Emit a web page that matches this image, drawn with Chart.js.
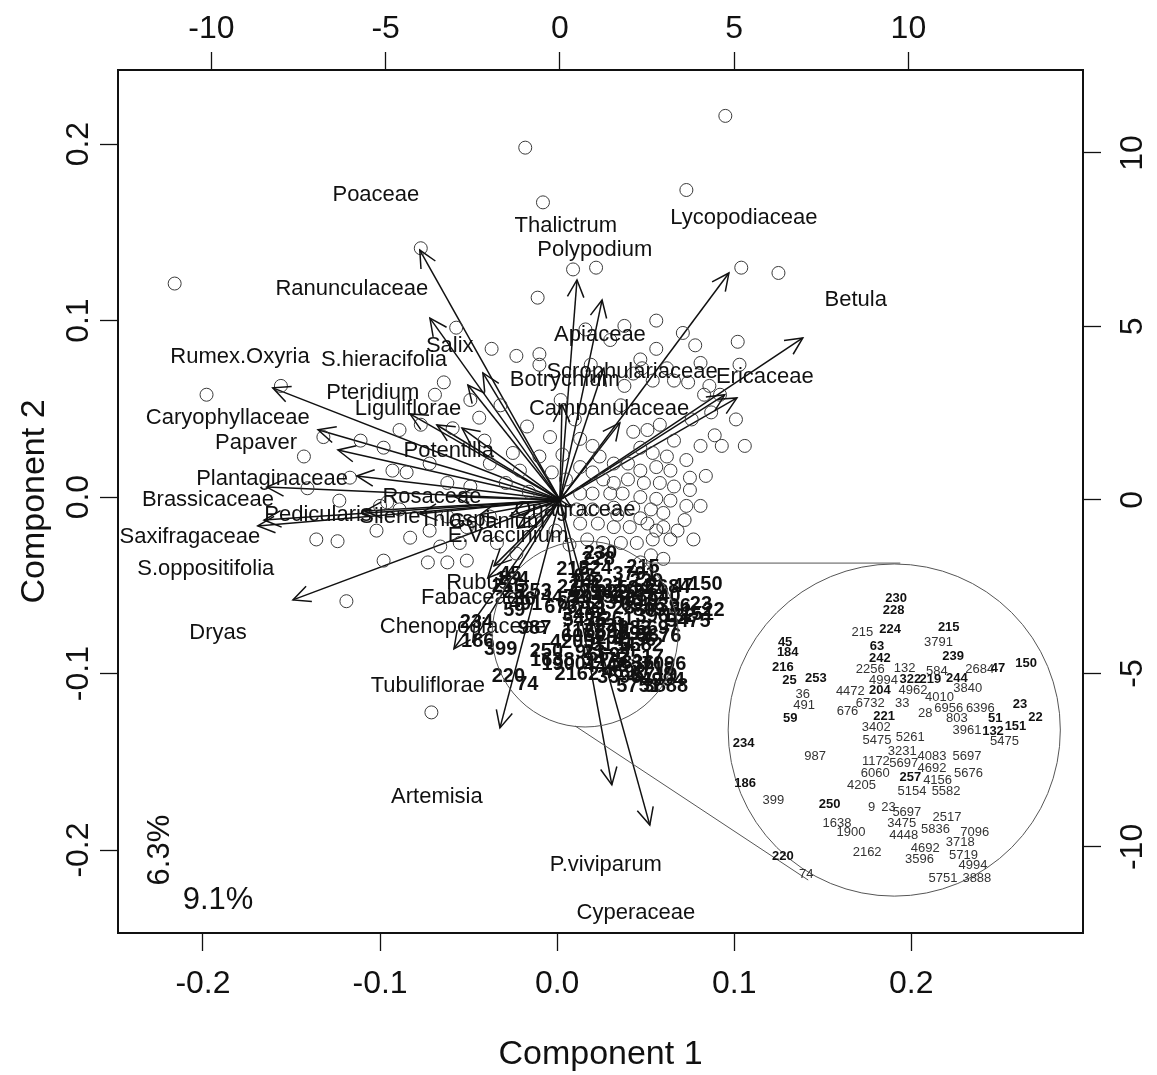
<!DOCTYPE html>
<html>
<head>
<meta charset="utf-8">
<script src="https://cdn.jsdelivr.net/npm/chart.js@4.4.1/dist/chart.umd.min.js"></script>
<style>
  html, body { margin: 0; background: #fff; }
  canvas { display: block; }
</style>
</head>
<body>
<canvas id="biplot" width="1157" height="1075"></canvas>
<script>
// sample scores on Component 1 / Component 2
const sampleX = [0.095,-0.018,-0.008,0.073,-0.216,-0.077,0.009,0.022,0.104,0.125,-0.011,0.056,0.056,0.048,0.062,0.071,0.078,0.102,0.103,-0.010,
  0.066,0.074,0.086,-0.057,-0.037,-0.023,-0.010,-0.198,-0.156,-0.064,-0.132,-0.143,-0.098,-0.093,-0.085,-0.117,-0.141,-0.100,-0.102,-0.136,
  -0.124,-0.083,-0.098,-0.119,-0.071,-0.044,-0.077,-0.059,-0.017,-0.004,-0.025,-0.010,0.003,-0.072,-0.062,-0.049,-0.038,-0.029,-0.003,0.013,
  0.020,0.024,0.032,0.047,0.054,0.043,0.051,0.058,0.047,0.054,0.062,0.066,0.040,0.047,0.056,0.064,0.032,0.040,0.049,0.058,
  0.066,0.013,0.020,0.013,0.020,0.030,0.037,0.047,0.056,0.064,0.011,0.020,0.032,0.043,0.053,0.060,0.013,0.023,0.032,0.041,
  0.051,0.060,0.068,0.017,0.026,0.036,0.045,0.054,0.064,-0.096,-0.089,-0.072,-0.062,-0.051,-0.038,-0.066,-0.055,-0.034,-0.023,-0.073,
  -0.062,-0.051,0.053,0.060,0.081,0.083,0.092,0.101,0.087,0.076,0.089,0.081,0.093,0.106,0.073,0.084,0.075,0.073,0.081,0.072,
  0.077,0.047,-0.021,-0.016,0.005,-0.012,-0.001,0.007,-0.041,-0.032,-0.049,-0.069,-0.089,-0.111,-0.123,0.010,0.002,0.036,0.038,0.030,
  0.016,0.038,0.019,0.043,0.026,0.034,0.047,0.056,0.075];
const sampleY = [0.216,0.198,0.167,0.174,0.121,0.141,0.129,0.130,0.130,0.127,0.113,0.100,0.084,0.073,0.073,0.093,0.086,0.088,0.075,0.075,
  0.066,0.065,0.063,0.096,0.084,0.080,0.081,0.058,0.063,0.065,0.034,0.023,0.028,0.015,0.014,0.011,0.005,-0.005,-0.019,-0.024,
  -0.025,-0.023,-0.036,-0.059,-0.122,0.045,0.041,0.039,0.040,0.034,0.025,0.023,0.024,0.019,0.008,0.006,0.019,0.008,0.014,0.033,
  0.029,0.023,0.019,0.078,0.066,0.037,0.038,0.041,0.028,0.025,0.023,0.032,0.019,0.015,0.017,0.015,0.008,0.010,0.008,0.008,
  0.006,0.017,0.014,0.002,0.002,0.002,0.002,0.000,-0.001,-0.002,-0.007,-0.007,-0.006,-0.006,-0.007,-0.009,-0.015,-0.015,-0.017,-0.017,
  -0.015,-0.017,-0.019,-0.024,-0.026,-0.026,-0.026,-0.024,-0.024,-0.003,-0.007,-0.019,-0.011,-0.017,-0.011,-0.028,-0.026,-0.026,-0.032,-0.037,
  -0.037,-0.036,-0.033,-0.035,0.076,0.058,0.058,0.044,0.048,0.044,0.035,0.029,0.029,0.029,0.021,0.012,0.011,-0.005,-0.005,-0.013,
  -0.024,-0.037,0.015,0.003,0.010,-0.013,-0.019,-0.027,0.032,0.052,0.055,0.058,0.038,0.032,-0.002,0.044,0.055,0.052,0.063,0.089,
  0.095,0.097,0.075,0.070,0.010,-0.010,-0.012,-0.019,0.004];

// pollen variables: arrow tips and label positions (top / right axis units)
const varNames = ['Poaceae','Thalictrum','Lycopodiaceae','Polypodium','Betula','Ranunculaceae','Apiaceae','Rumex.Oxyria',
  'S.hieracifolia','Salix','Botrychium','Scrophulariaceae','Ericaceae','Pteridium','Liguliflorae','Campanulaceae',
  'Caryophyllaceae','Papaver','Potentilla','Plantaginaceae','Brassicaceae','Rosaceae','Pedicularis','Saxifragaceae',
  'S.oppositifolia','Dryas','Silene','Thlaspi','Geranium','Onagraceae','E.Vaccinium','Rubus','Fabaceae',
  'Chenopodiaceae','Tubuliflorae','Artemisia','P.viviparum','Cyperaceae'];
const varX = [-4.02,0.49,4.85,1.21,6.97,-3.73,1.26,-8.24,-2.64,-2.21,0.06,4.73,5.08,-4.30,-3.53,1.72,
  -6.94,-6.37,-2.81,-5.83,-8.41,-3.01,-5.60,-8.49,-8.67,-7.66,-4.02,-2.30,-1.43,0.32,-1.21,-1.89,-2.07,
  -2.50,-3.04,-1.72,1.49,2.58];
const varY = [7.20,6.34,6.54,5.76,4.67,5.24,3.80,3.23,3.31,3.66,2.74,3.03,2.94,2.48,2.16,2.22,
  2.02,1.44,2.07,0.69,0.37,0.09,-0.32,-0.58,-0.75,-2.88,-0.40,-0.43,-0.46,-0.20,-0.81,-1.90,-2.25,
  -4.09,-4.29,-6.57,-8.21,-9.37];
const labX = [-5.28,0.17,5.28,1.00,8.49,-5.97,1.15,-9.18,-5.05,-3.16,0.14,2.07,5.88,-5.37,-4.36,1.41,
  -9.53,-8.72,-3.19,-8.26,-10.10,-3.67,-6.94,-10.62,-10.16,-9.81,-4.88,-3.01,-1.81,0.43,-1.49,-2.35,-2.58,
  -2.78,-3.79,-3.53,1.32,2.18];
const labY = [8.79,7.90,8.13,7.20,5.76,6.08,4.76,4.12,4.03,4.44,3.46,3.69,3.54,3.08,2.62,2.62,
  2.36,1.64,1.41,0.61,0.00,0.09,-0.43,-1.07,-1.99,-3.83,-0.49,-0.58,-0.63,-0.29,-1.04,-2.39,-2.82,
  -3.66,-5.36,-8.56,-10.52,-11.90];

// labelled samples in the crowded zone (Component 1 / Component 2), bold = sample number
const clusterText = ['230','228','215','224','215','3791','45','184','63','242','239','216','2256','132','584','2684','47','150',
  '25','253','4994','322','219','244','36','4472','204','4962','4010','3840','491','676','6732','33','28','6956','6396','23',
  '59','221','803','51','22','151','3402','3961','132','5475','5261','5475','234','3231','4083','5697','987','1172','5697',
  '4692','5676','6060','257','4156','186','4205','5154','5582','399','250','9','23','5697','2517','3475','5836','7096',
  '1638','1900','4448','3718','4692','2162','5719','220','3596','4994','74','5751','3888'];
const clusterX = [0.0244,0.0232,0.0089,0.0216,0.0485,0.0438,-0.0265,-0.0253,0.0156,0.0169,0.0505,-0.0275,0.0125,0.0283,0.0431,0.0627,0.0711,0.0840,
  -0.0245,-0.0124,0.0186,0.0309,0.0401,0.0522,-0.0184,0.0034,0.0169,0.0321,0.0443,0.0572,-0.0178,0.0021,0.0125,0.0272,0.0377,0.0485,0.0630,0.0812,
  -0.0242,0.0189,0.0522,0.0698,0.0883,0.0791,0.0153,0.0569,0.0688,0.0156,0.0309,0.0741,-0.0455,0.0272,0.0408,0.0569,-0.0127,0.0151,0.0279,
  0.0408,0.0576,0.0148,0.0309,0.0434,-0.0448,0.0085,0.0317,0.0473,-0.0319,-0.0061,0.0132,0.0209,0.0293,0.0477,0.0270,0.0424,0.0604,
  -0.0027,0.0037,0.0279,0.0538,0.0377,0.0111,0.0553,-0.0275,0.0351,0.0596,-0.0168,0.0459,0.0614];
const clusterY = [-0.0320,-0.0354,-0.0413,-0.0404,-0.0398,-0.0438,-0.0439,-0.0465,-0.0451,-0.0482,-0.0476,-0.0506,-0.0513,-0.0508,-0.0516,-0.0513,-0.0509,-0.0496,
  -0.0541,-0.0536,-0.0541,-0.0539,-0.0539,-0.0537,-0.0579,-0.0570,-0.0568,-0.0568,-0.0586,-0.0564,-0.0609,-0.0626,-0.0604,-0.0603,-0.0629,-0.0617,-0.0618,-0.0606,
  -0.0643,-0.0639,-0.0644,-0.0644,-0.0642,-0.0665,-0.0669,-0.0676,-0.0678,-0.0702,-0.0694,-0.0707,-0.0710,-0.0734,-0.0745,-0.0745,-0.0745,-0.0761,-0.0766,
  -0.0779,-0.0791,-0.0791,-0.0804,-0.0812,-0.0819,-0.0824,-0.0840,-0.0840,-0.0864,-0.0876,-0.0883,-0.0883,-0.0897,-0.0910,-0.0926,-0.0942,-0.0950,
  -0.0927,-0.0950,-0.0960,-0.0979,-0.0993,-0.1006,-0.1013,-0.1017,-0.1024,-0.1040,-0.1063,-0.1074,-0.1074];
const clusterBold = [1,1,0,1,1,0,1,1,1,1,1,1,0,0,0,0,1,1,
  1,1,0,1,1,1,0,0,1,0,0,0,0,0,0,0,0,0,0,1,
  1,1,0,1,1,1,0,0,1,0,0,0,1,0,0,0,0,0,0,
  0,0,0,1,0,1,0,0,0,0,1,0,0,0,0,0,0,0,
  0,0,0,0,0,0,0,1,0,0,0,0,0];

// zoom circle around the crowded zone and its enlarged copy
const zoomCentre = [0.0158, -0.0776];
const zoomRadius = 0.0525;
const insetCentre = [0.1904, -0.1320];
const insetRadius = 0.0938;
// enlargement applied to the crowded labels inside the copy
const clusterCentre = [0.0215, -0.0697];
const insetLabelCentre = [0.1879, -0.1366];
const insetStretch = [1.232, 2.102];
const leaderX = [[0.0497, 0.1938], [0.0102, 0.1418]];
const leaderY = [[-0.0374, -0.0374], [-0.1297, -0.2170]];

// explained variance notes
const noteText = ['6.3%', '9.1%'];
const noteX = [-0.2243, -0.1915];
const noteY = [-0.2000, -0.2283];
const noteRot = [-90, 0];

// tick labels
const xTicks = [-0.2, -0.1, 0.0, 0.1, 0.2];
const yTicks = [-0.2, -0.1, 0.0, 0.1, 0.2];
const x2Ticks = [-10, -5, 0, 5, 10];
const y2Ticks = [-10, -5, 0, 5, 10];

const FONT = '"Liberation Sans", Arial, Helvetica, sans-serif';
const INK = '#111';

const axisCommon = {
  type: 'linear',
  grid: { drawOnChartArea: false, drawTicks: true, tickLength: 18, tickColor: INK, tickWidth: 1.3 },
  border: { display: true, color: INK, width: 2 }
};

const layers = {
  id: 'biplotLayers',
  afterDatasetsDraw(chart) {
    const { ctx, chartArea } = chart;
    const { x, y, x2, y2 } = chart.scales;
    ctx.save();

    // arrow heads
    ctx.strokeStyle = INK;
    ctx.lineWidth = 1.5;
    const ox = x2.getPixelForValue(0), oy = y2.getPixelForValue(0);
    varX.forEach((vx, i) => {
      const tx = x2.getPixelForValue(vx), ty = y2.getPixelForValue(varY[i]);
      const a = Math.atan2(ty - oy, tx - ox);
      const h = 19, w = Math.PI / 7;
      ctx.beginPath();
      ctx.moveTo(tx - h * Math.cos(a - w), ty - h * Math.sin(a - w));
      ctx.lineTo(tx, ty);
      ctx.lineTo(tx - h * Math.cos(a + w), ty - h * Math.sin(a + w));
      ctx.stroke();
    });

    // variable names
    ctx.fillStyle = INK;
    ctx.textAlign = 'center';
    ctx.textBaseline = 'middle';
    ctx.font = '22px ' + FONT;
    varNames.forEach((n, i) => {
      ctx.fillText(n, x2.getPixelForValue(labX[i]), y2.getPixelForValue(labY[i]));
    });

    // sample numbers in the crowded zone
    ctx.font = 'bold 20px ' + FONT;
    clusterText.forEach((t, i) => {
      ctx.fillText(t, x.getPixelForValue(clusterX[i]), y.getPixelForValue(clusterY[i]));
    });

    // zoom circle, leader lines, enlarged circle
    const pxR = v => x.getPixelForValue(v) - x.getPixelForValue(0);
    ctx.strokeStyle = '#555';
    ctx.lineWidth = 1;
    ctx.beginPath();
    ctx.arc(x.getPixelForValue(zoomCentre[0]), y.getPixelForValue(zoomCentre[1]), pxR(zoomRadius), 0, Math.PI * 2);
    ctx.stroke();
    leaderX.forEach((lx, i) => {
      ctx.beginPath();
      ctx.moveTo(x.getPixelForValue(lx[0]), y.getPixelForValue(leaderY[i][0]));
      ctx.lineTo(x.getPixelForValue(lx[1]), y.getPixelForValue(leaderY[i][1]));
      ctx.stroke();
    });
    ctx.beginPath();
    ctx.arc(x.getPixelForValue(insetCentre[0]), y.getPixelForValue(insetCentre[1]), pxR(insetRadius), 0, Math.PI * 2);
    ctx.fillStyle = '#fff';
    ctx.fill();
    ctx.stroke();

    clusterText.forEach((t, i) => {
      const ix = insetLabelCentre[0] + (clusterX[i] - clusterCentre[0]) * insetStretch[0];
      const iy = insetLabelCentre[1] + (clusterY[i] - clusterCentre[1]) * insetStretch[1];
      ctx.font = clusterBold[i] ? 'bold 13px ' + FONT : '13px ' + FONT;
      ctx.fillStyle = clusterBold[i] ? INK : '#333';
      ctx.fillText(t, x.getPixelForValue(ix), y.getPixelForValue(iy));
    });

    // variance notes
    ctx.fillStyle = INK;
    ctx.font = '31px ' + FONT;
    noteText.forEach((t, i) => {
      ctx.save();
      ctx.translate(x.getPixelForValue(noteX[i]), y.getPixelForValue(noteY[i]));
      ctx.rotate(noteRot[i] * Math.PI / 180);
      ctx.fillText(t, 0, 0);
      ctx.restore();
    });

    // rotated tick labels of the vertical axes
    ctx.font = '32px ' + FONT;
    const vlab = (scale, vals, fmt, px) => {
      vals.forEach(v => {
        ctx.save();
        ctx.translate(px, scale.getPixelForValue(v));
        ctx.rotate(-Math.PI / 2);
        ctx.fillText(fmt(v), 0, 0);
        ctx.restore();
      });
    };
    vlab(y, yTicks, v => v.toFixed(1), chartArea.left - 39);
    vlab(y2, y2Ticks, v => String(v), chartArea.right + 50);

    ctx.restore();
  }
};

const datasets = [{
  label: 'samples',
  data: sampleX.map((v, i) => ({ x: v, y: sampleY[i] })),
  xAxisID: 'x', yAxisID: 'y',
  pointStyle: 'circle', pointRadius: 6.5,
  pointBackgroundColor: 'rgba(0,0,0,0)', pointBorderColor: '#3a3a3a', pointBorderWidth: 1,
  showLine: false
}].concat(varNames.map((n, i) => ({
  label: n,
  data: [{ x: 0, y: 0 }, { x: varX[i], y: varY[i] }],
  xAxisID: 'x2', yAxisID: 'y2',
  showLine: true, borderColor: INK, borderWidth: 1.5, pointRadius: 0
})));

new Chart(document.getElementById('biplot'), {
  type: 'scatter',
  data: { datasets },
  options: {
    responsive: false,
    devicePixelRatio: 1,
    animation: false,
    layout: { padding: 0 },
    plugins: { legend: { display: false }, tooltip: { enabled: false } },
    scales: {
      x: Object.assign({}, axisCommon, {
        position: 'bottom', min: -0.248, max: 0.297,
        afterBuildTicks: s => { s.ticks = xTicks.map(v => ({ value: v })); },
        afterFit: s => { s.height = 142; },
        ticks: { color: INK, font: { family: FONT, size: 32 }, padding: 14, maxRotation: 0, callback: v => v.toFixed(1) },
        title: { display: true, text: 'Component 1', color: INK, font: { family: FONT, size: 34, lineHeight: 1.2 }, padding: { top: 5, bottom: 0 } }
      }),
      y: Object.assign({}, axisCommon, {
        position: 'left', min: -0.247, max: 0.242,
        afterBuildTicks: s => { s.ticks = yTicks.map(v => ({ value: v })); },
        afterFit: s => { s.width = 118; },
        ticks: { display: false },
        title: { display: true, text: 'Component 2', color: INK, font: { family: FONT, size: 34, lineHeight: 1.2 }, padding: { top: 14, bottom: 0 } }
      }),
      x2: Object.assign({}, axisCommon, {
        position: 'top', min: -12.68, max: 15.01,
        afterBuildTicks: s => { s.ticks = x2Ticks.map(v => ({ value: v })); },
        afterFit: s => { s.height = 70; },
        ticks: { color: INK, font: { family: FONT, size: 32 }, padding: 4, maxRotation: 0, callback: v => String(v) }
      }),
      y2: Object.assign({}, axisCommon, {
        position: 'right', min: -12.48, max: 12.39,
        afterBuildTicks: s => { s.ticks = y2Ticks.map(v => ({ value: v })); },
        afterFit: s => { s.width = 74; },
        ticks: { display: false }
      })
    }
  },
  plugins: [layers]
});
</script>
</body>
</html>
